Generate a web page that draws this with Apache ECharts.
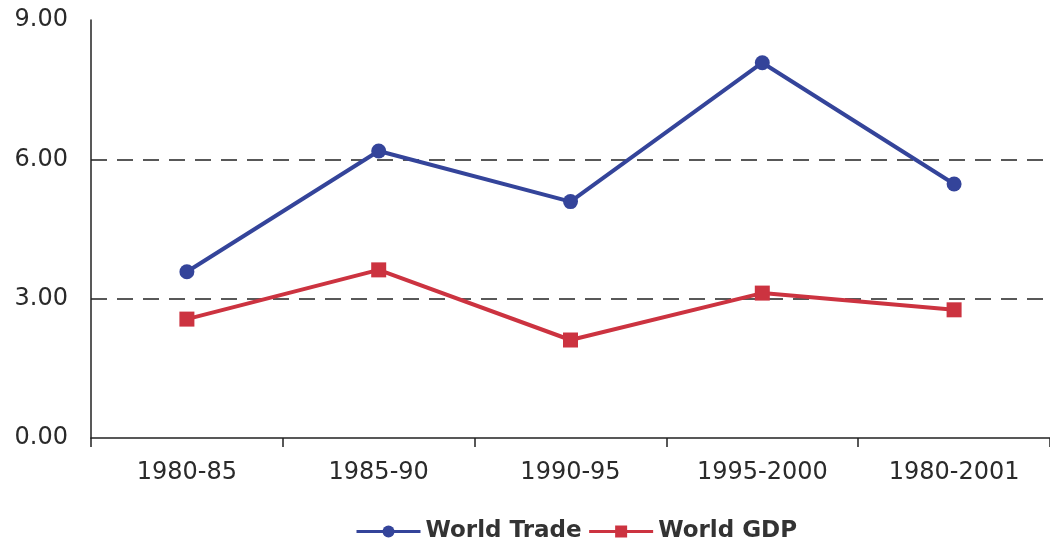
<!DOCTYPE html>
<html>
<head>
<meta charset="utf-8">
<script src="https://cdn.jsdelivr.net/npm/echarts@6/dist/echarts.min.js"></script>
<style>
  html, body { margin: 0; padding: 0; background: #fff; }
  #chart { width: 1050px; height: 543px; }
</style>
</head>
<body>
<div id="chart"></div>
<script>
// Periods on the category axis
const periods = ['1980-85', '1985-90', '1990-95', '1995-2000', '1980-2001'];
// Average annual growth, per cent
const worldTrade = [3.58, 6.18, 5.09, 8.08, 5.47];
const worldGDP = [2.56, 3.62, 2.11, 3.12, 2.76];
// Value axis ticks
const yTicks = [0, 3, 6, 9];

const font = 'DejaVu Sans, Verdana, sans-serif';
const chart = echarts.init(document.getElementById('chart'), null, { renderer: 'canvas' });

chart.setOption({
  backgroundColor: '#ffffff',
  animation: false,
  grid: { left: 91, width: 965, top: 20, bottom: 105 },
  legend: {
    left: 350,
    top: 515,
    itemWidth: 64,
    itemHeight: 15,
    itemGap: 6,
    lineStyle: { width: 3 },
    textStyle: { fontFamily: font, fontSize: 23, fontWeight: 'bold', color: '#333' },
    data: ['World Trade', 'World GDP']
  },
  xAxis: {
    type: 'category',
    data: periods,
    boundaryGap: true,
    axisLine: { lineStyle: { color: '#222', width: 1.5 } },
    axisTick: { show: true, length: 9, lineStyle: { color: '#222', width: 1.5 } },
    axisLabel: { margin: 23, fontFamily: font, fontSize: 24, color: '#2a2a2a' }
  },
  yAxis: {
    type: 'value',
    min: yTicks[0],
    max: yTicks[yTicks.length - 1],
    interval: 3,
    axisLine: { show: true, lineStyle: { color: '#222', width: 1.5 } },
    axisTick: { show: false },
    axisLabel: {
      margin: 23,
      fontFamily: font,
      fontSize: 24,
      color: '#2a2a2a',
      formatter: v => v.toFixed(2)
    },
    splitLine: {
      show: true,
      lineStyle: {
        color: ['transparent', '#222', '#222', 'transparent'],
        type: [16, 10],
        width: 1.5
      }
    }
  },
  series: [
    {
      name: 'World Trade',
      type: 'line',
      data: worldTrade,
      symbol: 'circle',
      symbolSize: 15,
      color: '#34449a',
      lineStyle: { width: 4, color: '#34449a' },
      itemStyle: { color: '#34449a' }
    },
    {
      name: 'World GDP',
      type: 'line',
      data: worldGDP,
      symbol: 'rect',
      symbolSize: 15,
      color: '#cc3340',
      lineStyle: { width: 4, color: '#cc3340' },
      itemStyle: { color: '#cc3340' }
    }
  ]
});
</script>
</body>
</html>
